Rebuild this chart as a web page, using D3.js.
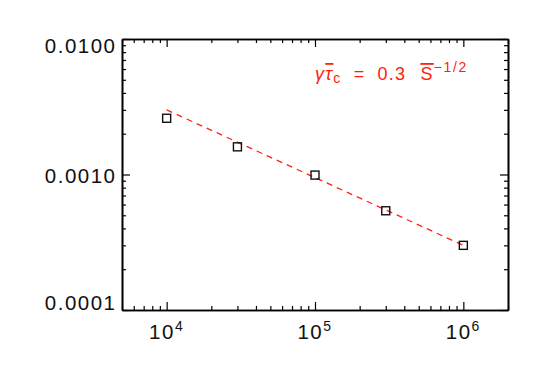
<!DOCTYPE html>
<html>
<head>
<meta charset="utf-8">
<script src="https://cdn.jsdelivr.net/npm/d3@7"></script>
<style>
  body { margin: 0; background: #fff; }
  svg { display: block; }
  .lab { font-family: "Liberation Sans", Arial, sans-serif; font-size: 20.5px; fill: #111; letter-spacing: 1.5px; }
</style>
</head>
<body>
<div id="chart"></div>
<script>
"use strict";

// data
var S = [1e4, 3e4, 1e5, 3e5, 1e6];
var tauC = [0.0026, 0.0016, 0.00099, 0.00054, 0.000300];

// fitted line gamma*tau_c = 0.3 S^-1/2, end points
var fitS = [1e4, 1e6];
var fitTau = [0.003, 0.0003];

var xMajor = [1e4, 1e5, 1e6];
var xExp = ["4", "5", "6"];
var yMajor = [1e-4, 1e-3, 1e-2];
var yLabels = ["0.0001", "0.0010", "0.0100"];

var width = 545,
  height = 389;
var pLeft = 122, pRight = 508, pTop = 39, pBottom = 310;
var red = "#ff2010";

var x = d3.scaleLog().domain([5e3, 2e6]).range([pLeft, pRight]);
var y = d3.scaleLog().domain([1e-4, 1e-2]).range([pBottom, pTop]);

var svg = d3
  .select("#chart")
  .append("svg")
  .attr("width", width)
  .attr("height", height);

// minor ticks 2..9 per decade
function minors(scale) {
  return scale.ticks().filter(function(t) {
    var m = t / Math.pow(10, Math.floor(Math.log10(t) + 1e-9));
    return Math.abs(m - 1) > 1e-6;
  });
}

var major = 8, minor = 4;

function drawAxis(axisFn, scale, tv, size, tx, ty) {
  var g = svg
    .append("g")
    .attr("transform", "translate(" + tx + "," + ty + ")")
    .call(axisFn(scale).tickValues(tv).tickSizeInner(-size).tickSizeOuter(0).tickFormat(""));
  g.select(".domain").attr("stroke", "#000").attr("stroke-width", 1.6);
  g.selectAll(".tick line").attr("stroke", "#000").attr("stroke-width", 1.2);
  return g;
}

// bottom / top
drawAxis(d3.axisBottom, x, minors(x), minor, 0, pBottom);
drawAxis(d3.axisBottom, x, xMajor, major, 0, pBottom);
drawAxis(d3.axisTop, x, minors(x), minor, 0, pTop);
drawAxis(d3.axisTop, x, xMajor, major, 0, pTop);
// left / right
drawAxis(d3.axisLeft, y, minors(y), minor, pLeft, 0);
drawAxis(d3.axisLeft, y, yMajor, major, pLeft, 0);
drawAxis(d3.axisRight, y, minors(y), minor, pRight, 0);
drawAxis(d3.axisRight, y, yMajor, major, pRight, 0);

// y labels, kept inside the axis range like IDL does
var capH = 14.4;
svg
  .selectAll(".ylab")
  .data(yMajor)
  .enter()
  .append("text")
  .attr("class", "lab")
  .attr("text-anchor", "end")
  .attr("x", pLeft - 5.5)
  .attr("y", function(d) {
    var c = Math.max(pTop + capH / 2, Math.min(pBottom - capH / 2, y(d) + 1.5));
    return c + capH / 2;
  })
  .text(function(d, i) {
    return yLabels[i];
  });

// x labels 10^n
var xl = svg
  .selectAll(".xlab")
  .data(xMajor)
  .enter()
  .append("text")
  .attr("class", "lab")
  .attr("text-anchor", "middle")
  .attr("x", function(d) {
    return x(d);
  })
  .attr("y", pBottom + 29);
xl.append("tspan").text("10");
xl
  .append("tspan")
  .attr("dy", -8)
  .attr("font-size", 14)
  .text(function(d, i) {
    return xExp[i];
  });

// fit line
var line = d3
  .line()
  .x(function(d) {
    return x(d[0]);
  })
  .y(function(d) {
    return y(d[1]);
  });

svg
  .append("path")
  .datum(d3.zip(fitS, fitTau))
  .attr("d", line)
  .attr("fill", "none")
  .attr("stroke", red)
  .attr("stroke-width", 1.3)
  .attr("stroke-dasharray", "6,5");

// data squares
var sq = 8;
svg
  .selectAll("rect.pt")
  .data(d3.zip(S, tauC))
  .enter()
  .append("rect")
  .attr("class", "pt")
  .attr("x", function(d) {
    return x(d[0]) - sq / 2;
  })
  .attr("y", function(d) {
    return y(d[1]) - sq / 2;
  })
  .attr("width", sq)
  .attr("height", sq)
  .attr("fill", "none")
  .attr("stroke", "#111")
  .attr("stroke-width", 1.4);

// annotation
var ann = svg
  .append("text")
  .attr("x", 315)
  .attr("y", 80)
  .attr("font-family", "Liberation Sans, Arial, sans-serif")
  .attr("font-size", 18)
  .attr("letter-spacing", 1.3)
  .attr("fill", red);
ann.append("tspan").attr("font-style", "italic").text("\u03b3");
ann
  .append("tspan")
  .attr("font-style", "italic")
  .attr("text-decoration", "overline")
  .text("\u03c4");
ann.append("tspan").attr("dy", 3).attr("font-size", 14).text("c");
ann.append("tspan").attr("dx", 12).attr("dy", -3).text("=");
ann.append("tspan").attr("dx", 12).text("0.3");
ann
  .append("tspan")
  .attr("dx", 14)
  .attr("text-decoration", "overline")
  .text("S");
ann.append("tspan").attr("dy", -8).attr("font-size", 14).attr("letter-spacing", 1.6).text("\u22121/2");
</script>
</body>
</html>
